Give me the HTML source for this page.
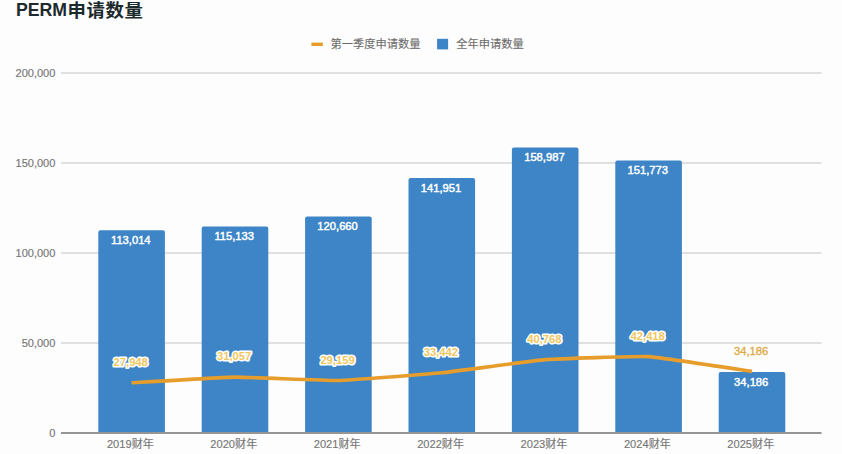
<!DOCTYPE html>
<html><head><meta charset="utf-8"><style>
html,body{margin:0;padding:0;background:#fff;}
body{width:842px;height:454px;overflow:hidden;position:relative;font-family:"Liberation Sans","Noto Sans CJK SC",sans-serif;}
svg{position:absolute;left:0;top:0;}
</style></head><body>
<svg width="842" height="454" viewBox="0 0 842 454">
<rect width="842" height="454" fill="#fdfdfd"/>

<text x="16" y="16.3" font-size="17.7" font-weight="bold" fill="#1d2a2c" font-family="Liberation Sans, Noto Sans CJK SC, sans-serif">PERM<tspan font-size="18.4" font-weight="bold" dx="0.4" dy="0.5" letter-spacing="0.6">申请数量</tspan></text>
<rect x="311.4" y="42.6" width="11.4" height="3.4" fill="#e99b27"/>
<text x="330.6" y="47.9" font-size="11.25" fill="#6b6b6b" stroke="#6b6b6b" stroke-width="0.1" font-family="Liberation Sans, Noto Sans CJK SC, sans-serif">第一季度申请数量</text>
<rect x="437.1" y="38.8" width="11" height="10.6" fill="#3d85c6"/>
<text x="456.3" y="47.9" font-size="11.25" fill="#6b6b6b" stroke="#6b6b6b" stroke-width="0.1" font-family="Liberation Sans, Noto Sans CJK SC, sans-serif">全年申请数量</text>
<rect x="61" y="342.0" width="760.5" height="2" fill="#e0e0e0"/>
<rect x="61" y="252.0" width="760.5" height="2" fill="#e0e0e0"/>
<rect x="61" y="162.0" width="760.5" height="2" fill="#e0e0e0"/>
<rect x="61" y="72.0" width="760.5" height="2" fill="#e0e0e0"/>
<text x="55.3" y="436.7" font-size="11" fill="#767676" stroke="#767676" stroke-width="0.15" text-anchor="end" font-family="Liberation Sans, Noto Sans CJK SC, sans-serif">0</text>
<text x="55.3" y="346.7" font-size="11" fill="#767676" stroke="#767676" stroke-width="0.15" text-anchor="end" font-family="Liberation Sans, Noto Sans CJK SC, sans-serif">50,000</text>
<text x="55.3" y="256.7" font-size="11" fill="#767676" stroke="#767676" stroke-width="0.15" text-anchor="end" font-family="Liberation Sans, Noto Sans CJK SC, sans-serif">100,000</text>
<text x="55.3" y="166.7" font-size="11" fill="#767676" stroke="#767676" stroke-width="0.15" text-anchor="end" font-family="Liberation Sans, Noto Sans CJK SC, sans-serif">150,000</text>
<text x="55.3" y="76.7" font-size="11" fill="#767676" stroke="#767676" stroke-width="0.15" text-anchor="end" font-family="Liberation Sans, Noto Sans CJK SC, sans-serif">200,000</text>
<path d="M98.3,433.0 L98.3,232.2 Q98.3,230.2 100.3,230.2 L162.9,230.2 Q164.9,230.2 164.9,232.2 L164.9,433.0 Z" fill="#3d85c6"/>
<path d="M201.7,433.0 L201.7,228.4 Q201.7,226.4 203.7,226.4 L266.3,226.4 Q268.3,226.4 268.3,228.4 L268.3,433.0 Z" fill="#3d85c6"/>
<path d="M305.1,433.0 L305.1,218.4 Q305.1,216.4 307.1,216.4 L369.7,216.4 Q371.7,216.4 371.7,218.4 L371.7,433.0 Z" fill="#3d85c6"/>
<path d="M408.5,433.0 L408.5,180.1 Q408.5,178.1 410.5,178.1 L473.1,178.1 Q475.1,178.1 475.1,180.1 L475.1,433.0 Z" fill="#3d85c6"/>
<path d="M511.9,433.0 L511.9,149.4 Q511.9,147.4 513.9,147.4 L576.5,147.4 Q578.5,147.4 578.5,149.4 L578.5,433.0 Z" fill="#3d85c6"/>
<path d="M615.3,433.0 L615.3,162.4 Q615.3,160.4 617.3,160.4 L679.9,160.4 Q681.9,160.4 681.9,162.4 L681.9,433.0 Z" fill="#3d85c6"/>
<path d="M718.7,433.0 L718.7,374.1 Q718.7,372.1 720.7,372.1 L783.3,372.1 Q785.3,372.1 785.3,374.1 L785.3,433.0 Z" fill="#3d85c6"/>
<rect x="61" y="432" width="760.5" height="2" fill="#959595"/>
<path d="M131.60,382.69 C136.77,382.41 224.66,377.21 235.00,377.10 C245.34,376.99 328.06,380.73 338.40,380.51 C348.74,380.30 431.46,373.85 441.80,372.80 C452.14,371.76 534.86,360.43 545.20,359.62 C555.54,358.81 638.26,356.06 648.60,356.65 C658.94,357.24 746.83,370.72 752.00,371.47" fill="none" stroke="#e69d2b" stroke-width="3.6" stroke-linejoin="round"/>
<text x="130.8" y="244.2" font-size="11.2" fill="#fff" stroke="#fff" stroke-width="0.45" text-anchor="middle" font-family="Liberation Sans, Noto Sans CJK SC, sans-serif">113,014</text>
<text x="234.2" y="240.4" font-size="11.2" fill="#fff" stroke="#fff" stroke-width="0.45" text-anchor="middle" font-family="Liberation Sans, Noto Sans CJK SC, sans-serif">115,133</text>
<text x="337.6" y="230.4" font-size="11.2" fill="#fff" stroke="#fff" stroke-width="0.45" text-anchor="middle" font-family="Liberation Sans, Noto Sans CJK SC, sans-serif">120,660</text>
<text x="441.0" y="192.1" font-size="11.2" fill="#fff" stroke="#fff" stroke-width="0.45" text-anchor="middle" font-family="Liberation Sans, Noto Sans CJK SC, sans-serif">141,951</text>
<text x="544.4" y="161.4" font-size="11.2" fill="#fff" stroke="#fff" stroke-width="0.45" text-anchor="middle" font-family="Liberation Sans, Noto Sans CJK SC, sans-serif">158,987</text>
<text x="647.8" y="174.4" font-size="11.2" fill="#fff" stroke="#fff" stroke-width="0.45" text-anchor="middle" font-family="Liberation Sans, Noto Sans CJK SC, sans-serif">151,773</text>
<text x="751.2" y="386.1" font-size="11.2" fill="#fff" stroke="#fff" stroke-width="0.45" text-anchor="middle" font-family="Liberation Sans, Noto Sans CJK SC, sans-serif">34,186</text>
<text x="130.7" y="365.7" font-size="11.2" font-weight="bold" fill="#f0c660" stroke="#fff" stroke-width="3.2" paint-order="stroke" stroke-linejoin="round" text-anchor="middle" font-family="Liberation Sans, Noto Sans CJK SC, sans-serif">27,948</text>
<text x="234.1" y="360.1" font-size="11.2" font-weight="bold" fill="#f0c660" stroke="#fff" stroke-width="3.2" paint-order="stroke" stroke-linejoin="round" text-anchor="middle" font-family="Liberation Sans, Noto Sans CJK SC, sans-serif">31,057</text>
<text x="337.5" y="363.5" font-size="11.2" font-weight="bold" fill="#f0c660" stroke="#fff" stroke-width="3.2" paint-order="stroke" stroke-linejoin="round" text-anchor="middle" font-family="Liberation Sans, Noto Sans CJK SC, sans-serif">29,159</text>
<text x="440.9" y="355.8" font-size="11.2" font-weight="bold" fill="#f0c660" stroke="#fff" stroke-width="3.2" paint-order="stroke" stroke-linejoin="round" text-anchor="middle" font-family="Liberation Sans, Noto Sans CJK SC, sans-serif">33,442</text>
<text x="544.3" y="342.6" font-size="11.2" font-weight="bold" fill="#f0c660" stroke="#fff" stroke-width="3.2" paint-order="stroke" stroke-linejoin="round" text-anchor="middle" font-family="Liberation Sans, Noto Sans CJK SC, sans-serif">40,768</text>
<text x="647.7" y="339.6" font-size="11.2" font-weight="bold" fill="#f0c660" stroke="#fff" stroke-width="3.2" paint-order="stroke" stroke-linejoin="round" text-anchor="middle" font-family="Liberation Sans, Noto Sans CJK SC, sans-serif">42,418</text>
<text x="751.1" y="354.8" font-size="11.2" fill="#deaa45" stroke="#deaa45" stroke-width="0.35" text-anchor="middle" font-family="Liberation Sans, Noto Sans CJK SC, sans-serif">34,186</text>
<text x="130.4" y="448.2" font-size="11.1" fill="#767676" stroke="#767676" stroke-width="0.15" text-anchor="middle" font-family="Liberation Sans, Noto Sans CJK SC, sans-serif">2019财年</text>
<text x="233.8" y="448.2" font-size="11.1" fill="#767676" stroke="#767676" stroke-width="0.15" text-anchor="middle" font-family="Liberation Sans, Noto Sans CJK SC, sans-serif">2020财年</text>
<text x="337.2" y="448.2" font-size="11.1" fill="#767676" stroke="#767676" stroke-width="0.15" text-anchor="middle" font-family="Liberation Sans, Noto Sans CJK SC, sans-serif">2021财年</text>
<text x="440.6" y="448.2" font-size="11.1" fill="#767676" stroke="#767676" stroke-width="0.15" text-anchor="middle" font-family="Liberation Sans, Noto Sans CJK SC, sans-serif">2022财年</text>
<text x="544.0" y="448.2" font-size="11.1" fill="#767676" stroke="#767676" stroke-width="0.15" text-anchor="middle" font-family="Liberation Sans, Noto Sans CJK SC, sans-serif">2023财年</text>
<text x="647.4" y="448.2" font-size="11.1" fill="#767676" stroke="#767676" stroke-width="0.15" text-anchor="middle" font-family="Liberation Sans, Noto Sans CJK SC, sans-serif">2024财年</text>
<text x="750.8" y="448.2" font-size="11.1" fill="#767676" stroke="#767676" stroke-width="0.15" text-anchor="middle" font-family="Liberation Sans, Noto Sans CJK SC, sans-serif">2025财年</text>
</svg></body></html>
